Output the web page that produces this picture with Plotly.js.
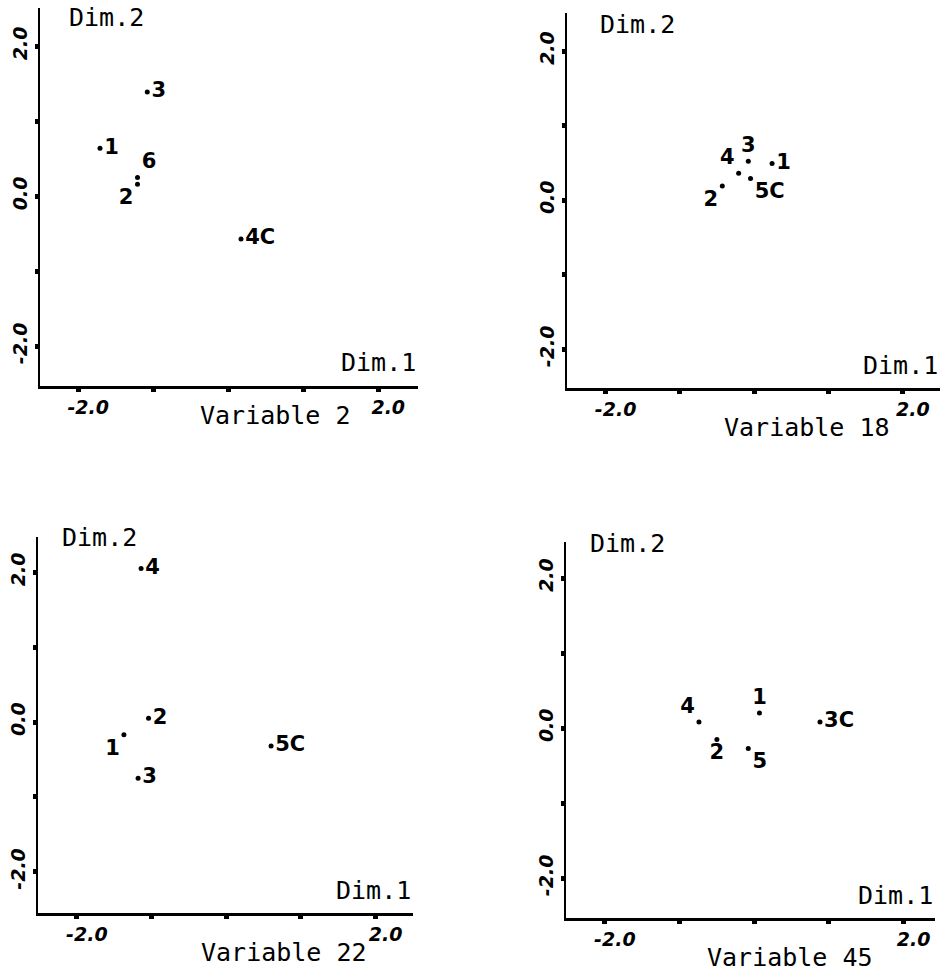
<!DOCTYPE html>
<html>
<head>
<meta charset="utf-8">
<script src="https://cdn.plot.ly/plotly-3.0.1.min.js"></script>
<style>html,body{margin:0;padding:0;background:#fff;}#chart{width:946px;height:971px;}</style>
</head>
<body>
<div id="chart"></div>
<script>
// Panel titles
const panelTitles = ["Variable 2", "Variable 18", "Variable 22", "Variable 45"];

// Variable 2
const v2Labels = ["1", "2", "3", "4C", "6"];
const v2Dim1 = [-1.71, -1.21, -1.08, 0.17, -1.21];
const v2Dim2 = [0.64, 0.16, 1.39, -0.57, 0.25];

// Variable 18
const v18Labels = ["1", "2", "3", "4", "5C"];
const v18Dim1 = [0.24, -0.43, -0.08, -0.21, -0.05];
const v18Dim2 = [0.49, 0.19, 0.52, 0.36, 0.29];

// Variable 22
const v22Labels = ["1", "2", "3", "4", "5C"];
const v22Dim1 = [-1.37, -1.04, -1.18, -1.14, 0.60];
const v22Dim2 = [-0.17, 0.05, -0.75, 2.05, -0.32];

// Variable 45
const v45Labels = ["1", "2", "3C", "4", "5"];
const v45Dim1 = [0.07, -0.50, 0.88, -0.74, -0.08];
const v45Dim2 = [0.20, -0.15, 0.08, 0.08, -0.27];

// Axis ticks
const tickVals = [-2, -1, 0, 1, 2];
const xTickText = ["-2.0", "", "", "", "2.0"];
const yTickText = ["-2.0", "", "0.0", "", "2.0"];

// Label placements (style)
const v2Pos = ["middle right", "bottom left", "middle right", "middle right", "top right"];
const v18Pos = ["middle right", "bottom left", "top center", "top left", "bottom right"];
const v22Pos = ["bottom left", "middle right", "middle right", "middle right", "middle right"];
const v45Pos = ["top center", "bottom center", "middle right", "top left", "bottom right"];

const labelFont = {family: "DejaVu Sans", size: 21, color: "#000", weight: "bold"};
const titleFont = {family: "DejaVu Sans Mono", size: 25, color: "#000"};
const tickFont = {family: "DejaVu Sans", size: 19, color: "#000", weight: "bold", style: "italic"};

function trace(x, y, labels, pos, i) {
  const s = i === 1 ? "" : String(i);
  return {
    type: "scatter", mode: "markers+text",
    x: x, y: y, text: labels, textposition: pos,
    textfont: labelFont, cliponaxis: false,
    marker: {size: 5, color: "#000"},
    xaxis: "x" + s, yaxis: "y" + s, showlegend: false, hoverinfo: "skip"
  };
}

const data = [
  trace(v2Dim1, v2Dim2, v2Labels, v2Pos, 1),
  trace(v18Dim1, v18Dim2, v18Labels, v18Pos, 2),
  trace(v22Dim1, v22Dim2, v22Labels, v22Pos, 3),
  trace(v45Dim1, v45Dim2, v45Labels, v45Pos, 4)
];

const W = 946, H = 971;
// pixel boxes [left, right, top, bottom]
const boxes = [[40, 418, 8, 386], [567, 940, 13, 388], [38, 413, 537, 913], [566, 935, 542, 918]];
const xRanges = [[-2.51, 2.53], [-2.52, 2.50], [-2.52, 2.50], [-2.52, 2.42]];
const yRanges = [[-2.53, 2.51], [-2.52, 2.51], [-2.55, 2.47], [-2.53, 2.48]];

function xax(i) {
  const b = boxes[i];
  return {
    domain: [b[0] / W, b[1] / W], range: xRanges[i], anchor: i === 0 ? "y" : "y" + (i + 1),
    showline: true, linecolor: "#000", linewidth: 2.5, showgrid: false, zeroline: false,
    tickmode: "array", tickvals: tickVals, ticktext: xTickText,
    ticks: "outside", ticklen: 3, tickwidth: 5, tickcolor: "#000",
    tickfont: tickFont, ticklabelstandoff: 0, ticklabelshift: 10, fixedrange: true
  };
}
function yax(i) {
  const b = boxes[i];
  return {
    domain: [1 - b[3] / H, 1 - b[2] / H], range: yRanges[i], anchor: i === 0 ? "x" : "x" + (i + 1),
    showline: true, linecolor: "#000", linewidth: 2.5, showgrid: false, zeroline: false,
    tickmode: "array", tickvals: tickVals, ticktext: yTickText,
    ticks: "outside", ticklen: 3, tickwidth: 5, tickcolor: "#000",
    tickangle: -90, tickfont: tickFont, ticklabelstandoff: 0, fixedrange: true
  };
}

const dim2Pos = [[0.071, 0.974], [0.083, 0.968], [0.059, 1.0], [0.06, 0.995]];
const dim1Pos = [[1.0, 0.063], [1.0, 0.061], [1.0, 0.061], [1.0, 0.061]];
const varPos = [[0.418, -0.078], [0.416, -0.104], [0.43, -0.106], [0.377, -0.104]];

const annotations = [];
for (let i = 0; i < 4; i++) {
  const s = i === 0 ? "" : String(i + 1);
  annotations.push({xref: "x" + s + " domain", yref: "y" + s + " domain", x: dim2Pos[i][0], y: dim2Pos[i][1],
    xanchor: "left", yanchor: "middle", text: "Dim.2", showarrow: false, font: titleFont});
  annotations.push({xref: "x" + s + " domain", yref: "y" + s + " domain", x: dim1Pos[i][0], y: dim1Pos[i][1],
    xanchor: "right", yanchor: "middle", text: "Dim.1", showarrow: false, font: titleFont});
  annotations.push({xref: "x" + s + " domain", yref: "y" + s + " domain", x: varPos[i][0], y: varPos[i][1],
    xanchor: "left", yanchor: "middle", text: panelTitles[i], showarrow: false, font: titleFont});
}

const layout = {
  width: W, height: H, margin: {l: 0, r: 0, t: 0, b: 0},
  paper_bgcolor: "#fff", plot_bgcolor: "#fff", showlegend: false,
  annotations: annotations,
  xaxis: xax(0), yaxis: yax(0),
  xaxis2: xax(1), yaxis2: yax(1),
  xaxis3: xax(2), yaxis3: yax(2),
  xaxis4: xax(3), yaxis4: yax(3)
};

Plotly.newPlot("chart", data, layout, {displayModeBar: false, staticPlot: true});
</script>
</body>
</html>
